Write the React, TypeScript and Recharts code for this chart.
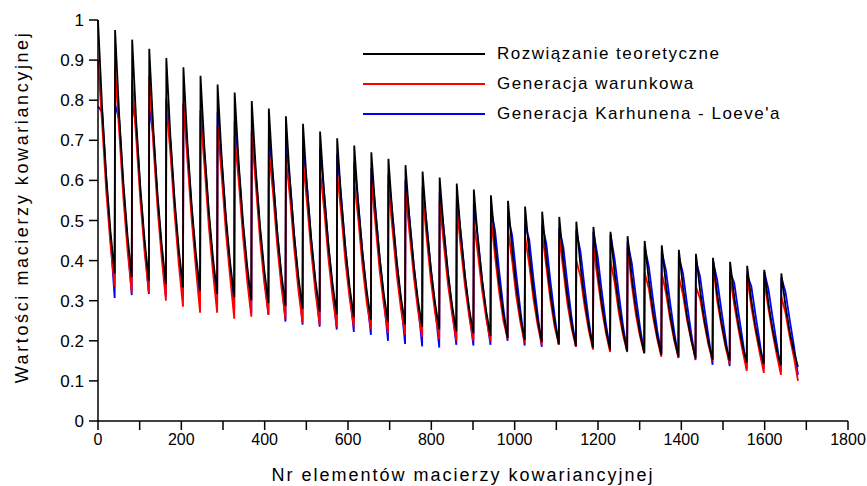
import React from 'react';
import { LineChart, Line, XAxis, YAxis } from 'recharts';

// 41 x 41 grid -> each "tooth" is one row of the covariance matrix
const ROW_LENGTH = 41;
const SAMPLE_COLUMNS = [0, 10, 20, 30, 40];

// Rozwiązanie teoretyczne (black)
const theoretical = [
  [1.000, 0.779, 0.607, 0.472, 0.368],
  [0.975, 0.760, 0.592, 0.460, 0.359],
  [0.951, 0.741, 0.577, 0.449, 0.350],
  [0.928, 0.723, 0.563, 0.438, 0.341],
  [0.905, 0.705, 0.549, 0.427, 0.333],
  [0.882, 0.687, 0.535, 0.416, 0.325],
  [0.861, 0.671, 0.523, 0.406, 0.317],
  [0.839, 0.654, 0.509, 0.396, 0.309],
  [0.819, 0.638, 0.497, 0.387, 0.301],
  [0.798, 0.622, 0.484, 0.377, 0.294],
  [0.779, 0.607, 0.473, 0.368, 0.287],
  [0.760, 0.592, 0.461, 0.359, 0.280],
  [0.741, 0.577, 0.450, 0.350, 0.273],
  [0.722, 0.562, 0.438, 0.341, 0.266],
  [0.705, 0.549, 0.428, 0.333, 0.259],
  [0.687, 0.535, 0.417, 0.324, 0.253],
  [0.670, 0.522, 0.407, 0.316, 0.247],
  [0.654, 0.509, 0.397, 0.309, 0.241],
  [0.638, 0.497, 0.387, 0.301, 0.235],
  [0.622, 0.485, 0.378, 0.294, 0.229],
  [0.607, 0.473, 0.368, 0.287, 0.223],
  [0.592, 0.461, 0.359, 0.279, 0.218],
  [0.577, 0.449, 0.350, 0.272, 0.212],
  [0.563, 0.439, 0.342, 0.266, 0.207],
  [0.549, 0.428, 0.333, 0.259, 0.202],
  [0.535, 0.417, 0.325, 0.253, 0.197],
  [0.522, 0.407, 0.317, 0.246, 0.192],
  [0.509, 0.397, 0.309, 0.240, 0.187],
  [0.497, 0.387, 0.302, 0.235, 0.183],
  [0.484, 0.377, 0.294, 0.228, 0.178],
  [0.472, 0.368, 0.287, 0.223, 0.174],
  [0.461, 0.359, 0.280, 0.218, 0.170],
  [0.449, 0.350, 0.273, 0.212, 0.165],
  [0.438, 0.341, 0.266, 0.207, 0.161],
  [0.427, 0.333, 0.259, 0.202, 0.157],
  [0.417, 0.325, 0.253, 0.197, 0.153],
  [0.407, 0.317, 0.247, 0.192, 0.150],
  [0.397, 0.309, 0.241, 0.187, 0.146],
  [0.387, 0.301, 0.235, 0.183, 0.142],
  [0.377, 0.294, 0.229, 0.178, 0.139],
  [0.368, 0.287, 0.223, 0.174, 0.135],
];

// Generacja warunkowa (red)
const conditional = [
  [0.900, 0.740, 0.570, 0.440, 0.335],
  [0.880, 0.720, 0.555, 0.425, 0.320],
  [0.850, 0.700, 0.545, 0.420, 0.320],
  [0.860, 0.685, 0.530, 0.405, 0.300],
  [0.790, 0.665, 0.515, 0.390, 0.285],
  [0.795, 0.645, 0.500, 0.380, 0.270],
  [0.763, 0.630, 0.485, 0.370, 0.270],
  [0.738, 0.610, 0.470, 0.360, 0.255],
  [0.710, 0.595, 0.460, 0.350, 0.260],
  [0.720, 0.585, 0.450, 0.345, 0.265],
  [0.676, 0.570, 0.440, 0.335, 0.255],
  [0.656, 0.555, 0.430, 0.325, 0.245],
  [0.650, 0.540, 0.420, 0.320, 0.240],
  [0.626, 0.525, 0.405, 0.310, 0.235],
  [0.618, 0.515, 0.395, 0.305, 0.235],
  [0.600, 0.500, 0.385, 0.295, 0.230],
  [0.600, 0.490, 0.375, 0.290, 0.220],
  [0.589, 0.475, 0.365, 0.280, 0.215],
  [0.572, 0.465, 0.360, 0.275, 0.210],
  [0.569, 0.455, 0.350, 0.270, 0.205],
  [0.547, 0.440, 0.340, 0.265, 0.200],
  [0.534, 0.430, 0.335, 0.260, 0.200],
  [0.497, 0.415, 0.325, 0.255, 0.198],
  [0.509, 0.410, 0.320, 0.250, 0.205],
  [0.476, 0.400, 0.310, 0.245, 0.195],
  [0.460, 0.390, 0.305, 0.240, 0.190],
  [0.469, 0.385, 0.300, 0.235, 0.190],
  [0.460, 0.375, 0.290, 0.230, 0.185],
  [0.400, 0.360, 0.285, 0.225, 0.178],
  [0.435, 0.355, 0.280, 0.220, 0.172],
  [0.400, 0.345, 0.270, 0.215, 0.172],
  [0.435, 0.340, 0.265, 0.210, 0.168],
  [0.370, 0.330, 0.260, 0.205, 0.160],
  [0.369, 0.320, 0.255, 0.200, 0.158],
  [0.360, 0.315, 0.250, 0.200, 0.155],
  [0.335, 0.305, 0.245, 0.190, 0.150],
  [0.394, 0.300, 0.240, 0.185, 0.142],
  [0.360, 0.290, 0.230, 0.175, 0.125],
  [0.360, 0.285, 0.225, 0.170, 0.120],
  [0.352, 0.280, 0.220, 0.165, 0.115],
  [0.310, 0.270, 0.210, 0.160, 0.100],
];

// Generacja Karhunena - Loeve'a (blue)
const karhunenLoeve = [
  [0.785, 0.770, 0.600, 0.455, 0.307],
  [0.790, 0.750, 0.580, 0.445, 0.314],
  [0.800, 0.730, 0.567, 0.435, 0.317],
  [0.780, 0.713, 0.553, 0.423, 0.310],
  [0.805, 0.695, 0.539, 0.412, 0.305],
  [0.790, 0.677, 0.525, 0.401, 0.300],
  [0.775, 0.661, 0.513, 0.391, 0.290],
  [0.770, 0.644, 0.499, 0.381, 0.280],
  [0.746, 0.628, 0.487, 0.372, 0.270],
  [0.726, 0.612, 0.474, 0.362, 0.265],
  [0.706, 0.612, 0.473, 0.358, 0.248],
  [0.690, 0.597, 0.461, 0.349, 0.240],
  [0.685, 0.582, 0.450, 0.340, 0.235],
  [0.680, 0.567, 0.438, 0.331, 0.228],
  [0.665, 0.554, 0.428, 0.323, 0.222],
  [0.645, 0.540, 0.417, 0.314, 0.215],
  [0.630, 0.527, 0.407, 0.306, 0.200],
  [0.615, 0.514, 0.397, 0.299, 0.192],
  [0.600, 0.502, 0.387, 0.291, 0.186],
  [0.585, 0.490, 0.378, 0.284, 0.183],
  [0.570, 0.478, 0.368, 0.277, 0.190],
  [0.555, 0.466, 0.359, 0.269, 0.188],
  [0.540, 0.454, 0.350, 0.262, 0.190],
  [0.530, 0.474, 0.372, 0.281, 0.200],
  [0.510, 0.463, 0.363, 0.274, 0.188],
  [0.490, 0.452, 0.355, 0.268, 0.185],
  [0.489, 0.442, 0.347, 0.261, 0.190],
  [0.480, 0.432, 0.339, 0.255, 0.185],
  [0.476, 0.422, 0.332, 0.250, 0.180],
  [0.472, 0.412, 0.324, 0.243, 0.178],
  [0.466, 0.403, 0.317, 0.238, 0.175],
  [0.447, 0.394, 0.310, 0.233, 0.170],
  [0.435, 0.385, 0.303, 0.227, 0.170],
  [0.422, 0.376, 0.296, 0.222, 0.157],
  [0.410, 0.368, 0.289, 0.217, 0.152],
  [0.400, 0.360, 0.283, 0.212, 0.140],
  [0.400, 0.352, 0.277, 0.207, 0.137],
  [0.372, 0.344, 0.271, 0.202, 0.130],
  [0.364, 0.336, 0.265, 0.198, 0.130],
  [0.372, 0.329, 0.259, 0.193, 0.125],
  [0.357, 0.322, 0.253, 0.189, 0.115],
];

const xTicks = [0, 100, 200, 300, 400, 500, 600, 700, 800, 900, 1000, 1100, 1200, 1300, 1400, 1500, 1600, 1700, 1800];
const yTicks = [0, 0.1, 0.2, 0.3, 0.4, 0.5, 0.6, 0.7, 0.8, 0.9, 1];

const legendItems = [
  { name: 'Rozwiązanie teoretyczne', color: '#000000' },
  { name: 'Generacja warunkowa', color: '#ff0000' },
  { name: "Generacja Karhunena - Loeve'a", color: '#0000ff' },
];

const FONT = '"Liberation Sans", Arial, sans-serif';

const data = theoretical.flatMap((row, r) =>
  SAMPLE_COLUMNS.map((col, i) => ({
    element: r * ROW_LENGTH + col,
    theoretical: row[i],
    conditional: conditional[r][i],
    kl: karhunenLoeve[r][i],
  }))
);

const App: React.FC = () => {
  return (
    <div style={{ position: 'absolute', left: 0, top: 0, width: 867, height: 486, background: '#fff', fontFamily: FONT }}>
      <LineChart width={867} height={486} data={data} margin={{ top: 20, right: 19, left: 38, bottom: 35 }}>
        <XAxis
          dataKey="element"
          type="number"
          domain={[0, 1800]}
          ticks={xTicks}
          interval={0}
          tickFormatter={(v: number) => (v % 200 === 0 ? String(v) : '')}
          stroke="#000"
          strokeWidth={1.5}
          tickSize={9}
          tickMargin={4}
          height={30}
          tick={{ fill: '#000', fontSize: 16, fontFamily: FONT }}
        />
        <YAxis
          type="number"
          domain={[0, 1]}
          ticks={yTicks}
          interval={0}
          stroke="#000"
          strokeWidth={1.5}
          tickSize={9}
          tickMargin={5}
          width={60}
          tick={{ fill: '#000', fontSize: 17, fontFamily: FONT }}
        />
        <Line type="linear" dataKey="kl" stroke="#0000ff" strokeWidth={1.8} dot={false} isAnimationActive={false} />
        <Line type="linear" dataKey="conditional" stroke="#ff0000" strokeWidth={1.8} dot={false} isAnimationActive={false} />
        <Line type="linear" dataKey="theoretical" stroke="#000000" strokeWidth={1.8} dot={false} isAnimationActive={false} />
      </LineChart>

      {/* legend */}
      <div style={{ position: 'absolute', left: 363, top: 39 }}>
        {legendItems.map((item) => (
          <div key={item.name} style={{ display: 'flex', alignItems: 'center', height: 30 }}>
            <div style={{ width: 122, height: 2, background: item.color }} />
            <span style={{ marginLeft: 12, fontSize: 17, letterSpacing: 1.5, color: '#000', whiteSpace: 'nowrap' }}>{item.name}</span>
          </div>
        ))}
      </div>

      {/* axis titles */}
      <div
        style={{
          position: 'absolute',
          left: 463,
          top: 475,
          transform: 'translate(-50%, -50%)',
          fontSize: 18,
          letterSpacing: 2,
          whiteSpace: 'nowrap',
          color: '#000',
        }}
      >
        Nr elementów macierzy kowariancyjnej
      </div>
      <div
        style={{
          position: 'absolute',
          left: 22,
          top: 207,
          transform: 'translate(-50%, -50%) rotate(-90deg)',
          fontSize: 18,
          letterSpacing: 2.6,
          whiteSpace: 'nowrap',
          color: '#000',
        }}
      >
        Wartości macierzy kowariancyjnej
      </div>
    </div>
  );
};

export default App;
